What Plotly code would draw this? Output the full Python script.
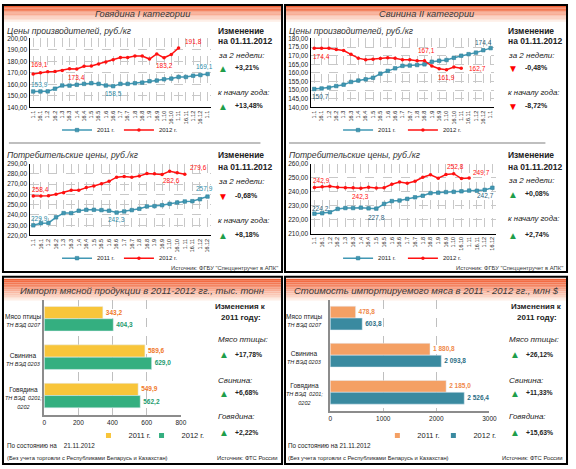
import plotly.graph_objects as go

# ---------------- data ----------------
dates_25 = ["1.1", "16.1", "1.2", "16.2", "1.3", "16.3", "1.4", "16.4", "1.5", "16.5", "1.6", "16.6",
            "1.7", "16.7", "1.8", "16.8", "1.9", "16.9", "1.10", "16.10", "1.11", "16.11", "1.12", "16.12", "1.1"]
dates_24 = dates_25[:24]

beef_prod_2011 = [153.9, 153.9, 154.0, 156.3, 159.1, 159.0, 159.7, 160.5, 161.1, 160.5, 159.1, 158.5, 160.5,
                  160.5, 161.1, 161.6, 162.8, 163.4, 164.5, 165.1, 166.5, 166.5, 167.6, 168.2, 169.1]
beef_prod_2012 = [169.1, 170.2, 171.0, 171.3, 172.2, 173.6, 173.4, 175.9, 176.1, 177.8, 179.5, 181.5, 183.5,
                  183.5, 184.7, 184.7, 182.1, 186.6, 183.2, 186.1, 191.8]
beef_cons_2011 = [229.9, 231.9, 232.2, 237.7, 241.8, 241.8, 244.1, 245.0, 245.0, 244.7, 244.1, 242.3, 243.4,
                  244.7, 246.0, 248.3, 248.6, 249.5, 250.8, 252.1, 253.1, 253.4, 255.3, 257.9]
beef_cons_2012 = [258.4, 258.5, 258.8, 260.1, 261.7, 264.0, 264.0, 266.6, 268.2, 270.4, 272.7, 276.8, 277.5,
                  276.8, 277.8, 280.4, 280.0, 279.4, 282.6, 281.0, 279.6]
pork_prod_2011 = [150.7, 151.0, 151.5, 152.4, 153.2, 154.8, 155.6, 156.3, 157.2, 159.6, 161.2, 162.7, 164.1,
                  164.3, 164.6, 165.0, 166.5, 167.1, 167.5, 168.8, 170.0, 170.9, 171.8, 173.2, 174.4]
pork_prod_2012 = [174.4, 174.4, 174.3, 173.6, 173.0, 170.8, 168.6, 167.7, 168.0, 168.4, 168.8, 168.5, 167.6,
                  167.6, 167.1, 167.1, 164.0, 162.4, 161.9, 163.4, 162.7]
pork_cons_2011 = [224.2, 224.5, 225.2, 227.6, 228.2, 228.2, 228.5, 228.0, 227.8, 231.2, 233.2, 233.6, 234.8,
                  235.9, 237.0, 238.9, 239.2, 239.6, 239.8, 240.2, 240.7, 240.6, 241.2, 242.7]
pork_cons_2012 = [242.9, 243.5, 243.8, 243.0, 242.8, 242.8, 242.3, 243.1, 242.6, 242.8, 245.2, 246.8, 245.9,
                  247.4, 250.2, 252.0, 249.6, 252.2, 252.8, 249.3, 249.7]

import_cats = ["Мясо птицы", "Свинина", "Говядина"]
import_codes = ["ТН ВЭД 0207", "ТН ВЭД 0203", "ТН ВЭД  0201;<br>0202"]
import_vol_2011 = [343.2, 589.6, 549.9]
import_vol_2012 = [404.3, 629.0, 562.2]
import_val_2011 = [478.8, 1880.8, 2185.0]
import_val_2012 = [603.8, 2093.8, 2526.4]

series_names = ["2011 г.", "2012 г."]
FONT = "Liberation Sans, Arial, sans-serif"

# ---------------- helpers ----------------
W, H = 576, 469
def X(px): return px / W
def Y(py): return 1 - py / H

TEAL = "#4198B4"
RED = "#FF1010"
fig = go.Figure()
annotations = []
shapes = []
legend_counter = [0]

def new_legend(xpx, ypx, size):
    legend_counter[0] += 1
    name = "legend" if legend_counter[0] == 1 else f"legend{legend_counter[0]}"
    fig.layout[name] = dict(orientation="h", x=X(xpx), y=Y(ypx), xanchor="left", yanchor="middle",
                            font=dict(size=size, color="#222"), bgcolor="rgba(0,0,0,0)", itemwidth=30)
    return name

def ax_names(k):
    return ("x" if k == 1 else f"x{k}", "y" if k == 1 else f"y{k}",
            "xaxis" if k == 1 else f"xaxis{k}", "yaxis" if k == 1 else f"yaxis{k}")

def line_chart(k, labels, s11, s12, yr, dt, xpx, ypx, legx, legy):
    xa, ya, xn, yn = ax_names(k)
    l1 = new_legend(legx[0], legy, 6)
    l2 = new_legend(legx[1], legy, 6)
    fig.add_trace(go.Scatter(x=list(range(len(s11))), y=s11, mode="lines+markers", name=series_names[0],
                             line=dict(color=TEAL, width=1.5),
                             marker=dict(symbol="square", size=3.5, color=TEAL, line=dict(color="#2E7F99", width=0.6)),
                             xaxis=xa, yaxis=ya, legend=l1, cliponaxis=False))
    fig.add_trace(go.Scatter(x=list(range(len(s12))), y=s12, mode="lines+markers", name=series_names[1],
                             line=dict(color=RED, width=1.5),
                             marker=dict(symbol="circle", size=3.5, color=RED),
                             xaxis=xa, yaxis=ya, legend=l2, cliponaxis=False))
    fig.layout[xn] = dict(domain=[X(xpx[0]), X(xpx[1])], anchor=ya, range=[-0.5, len(labels) - 0.5],
                          tickmode="array", tickvals=list(range(len(labels))), ticktext=labels,
                          tickangle=-90, tickfont=dict(size=5.5, color="#222"),
                          showgrid=True, gridcolor="#C8C8C8", griddash="dash", gridwidth=0.7,
                          showline=True, linecolor="black", linewidth=1.3, ticks="", zeroline=False)
    fig.layout[yn] = dict(domain=[Y(ypx[1]), Y(ypx[0])], anchor=xa, range=yr, dtick=dt, tickformat=".2f",
                          tickfont=dict(size=6.5, color="#222"), showgrid=True, gridcolor="#C8C8C8",
                          griddash="dash", gridwidth=0.7, showline=True, linecolor="black", linewidth=1.3,
                          ticks="", zeroline=False)

def point_label(k, series, idx, color, dx, dy):
    xa, ya, _, _ = ax_names(k)
    v = series[idx]
    annotations.append(dict(xref=xa, yref=ya, x=idx, y=v, text=f"{v:.1f}".replace(".", ","), showarrow=False,
                            xshift=dx, yshift=dy, font=dict(size=6.5, color=color)))

def txt(x, y, text, size=9, color="#222", anchor="left"):
    annotations.append(dict(xref="paper", yref="paper", x=X(x), y=Y(y), text=text, showarrow=False,
                            xanchor=anchor, yanchor="middle", align=anchor if anchor != "center" else "center",
                            font=dict(size=size, color=color, family=FONT)))

def tri(x, y, up):
    txt(x, y, "▲" if up else "▼", size=10, color="#1E9E4A" if up else "#FF0000", anchor="center")

def header(x0, x1, y0, y1, title, size):
    n = 12
    top = (241, 96, 52)
    bot = (254, 238, 230)
    for i in range(n):
        t = i / (n - 1)
        c = tuple(int(top[j] + (bot[j] - top[j]) * t) for j in range(3))
        shapes.append(dict(type="rect", xref="paper", yref="paper", x0=X(x0), x1=X(x1),
                           y0=Y(y0 + (y1 - y0) * (i + 1) / n), y1=Y(y0 + (y1 - y0) * i / n),
                           fillcolor=f"rgb{c}", line=dict(width=0), layer="below"))
    txt((x0 + x1) / 2, (y0 + y1) / 2 + 0.5, f"<i>{title}</i>", size=size, color="#3A3A3A", anchor="center")

# ---------------- panels ----------------
for (x0, y0, x1, y1) in [(1, 1, 285, 272), (288, 1, 575, 272), (1, 277, 285, 467), (288, 277, 575, 467)]:
    shapes.append(dict(type="rect", xref="paper", yref="paper", x0=X(x0), x1=X(x1), y0=Y(y1), y1=Y(y0),
                       line=dict(color="black", width=2)))
header(2, 284, 2, 18, "Говядина I категории", 9.3)
header(289, 574, 2, 18, "Свинина II категории", 9.3)
header(2, 284, 279, 301, "Импорт мясной продукции в 2011-2012 гг., тыс. тонн", 9.5)
header(289, 574, 279, 301, "Стоимость импортируемого мяса в 2011 - 2012 гг., млн $", 9.5)

for (a, b) in [(7, 263), (292, 553)]:
    shapes.append(dict(type="line", xref="paper", yref="paper", x0=X(a), x1=X(b), y0=Y(141), y1=Y(141),
                       line=dict(color="#BFBFBF", width=2)))

# ---------------- line charts ----------------
line_chart(1, dates_25, beef_prod_2011, beef_prod_2012, [140, 200], 10, (28, 213), (35, 105), (56, 119), 128)
line_chart(2, dates_24, beef_cons_2011, beef_cons_2012, [220, 290], 10, (28, 213), (162, 235), (56, 119), 258)
line_chart(3, dates_25, pork_prod_2011, pork_prod_2012, [140, 180], 5, (314, 501), (35, 105), (342, 408), 128)
line_chart(4, dates_24, pork_cons_2011, pork_cons_2012, [210, 260], 10, (314, 503), (162, 233), (342, 408), 258)

TL1 = "#2E8BA8"
TL2 = "#2C5F7C"
point_label(1, beef_prod_2012, 0, RED, 6, 9)
point_label(1, beef_prod_2012, 6, RED, 0, -8)
point_label(1, beef_prod_2012, 18, RED, 0, -8)
point_label(1, beef_prod_2012, 20, RED, 15, 6)
point_label(1, beef_prod_2011, 0, TL1, 6, 7)
point_label(1, beef_prod_2011, 11, TL1, 0, -7)
point_label(1, beef_prod_2011, 24, TL1, -3, 7)

point_label(2, beef_cons_2012, 0, RED, 7, 7)
point_label(2, beef_cons_2012, 18, RED, 2, -9)
point_label(2, beef_cons_2012, 20, RED, 14, 7)
point_label(2, beef_cons_2011, 0, TL1, 6, 7)
point_label(2, beef_cons_2011, 11, TL1, 0, -7)
point_label(2, beef_cons_2011, 23, TL1, -3, 8)

point_label(3, pork_prod_2012, 0, RED, 7, -8)
point_label(3, pork_prod_2012, 15, RED, 2, 10)
point_label(3, pork_prod_2012, 18, RED, 0, -8)
point_label(3, pork_prod_2012, 20, RED, 16, 0)
point_label(3, pork_prod_2011, 0, TL2, 6, -8)
point_label(3, pork_prod_2011, 24, TL2, -7, 6)

point_label(4, pork_cons_2012, 0, RED, 7, 7)
point_label(4, pork_cons_2012, 6, RED, 0, -8)
point_label(4, pork_cons_2012, 18, RED, 2, 7)
point_label(4, pork_cons_2012, 20, RED, 12, 5)
point_label(4, pork_cons_2011, 0, TL2, 6, 5)
point_label(4, pork_cons_2011, 8, TL2, 0, -9)
point_label(4, pork_cons_2011, 23, TL2, -7, -8)

# right-side change texts (top panels)
def change_block(x, ys, up1, v1, up2, v2):
    txt(x, ys[0], "<b>Изменение</b>", 8.5)
    txt(x, ys[1], "<b>на 01.11.2012</b>", 8.5)
    txt(x, ys[2], "<i>за 2 недели:</i>", 8)
    tri(x + 7, ys[3], up1)
    txt(x + 17, ys[3], f"<b>{v1}</b>", 7)
    txt(x, ys[4], "<i>к началу года:</i>", 7.8)
    tri(x + 7, ys[5], up2)
    txt(x + 17, ys[5], f"<b>{v2}</b>", 7)

change_block(218, [27, 38, 52, 65, 90, 104], True, "+3,21%", True, "+13,48%")
change_block(218, [153, 165, 180, 195, 220, 235], False, "-0,68%", True, "+8,18%")
change_block(513, [27, 38, 52, 65, 90, 104], False, "-0,48%", False, "-8,72%")
change_block(513, [153, 165, 179, 193, 218, 235], True, "+0,08%", True, "+2,74%")

txt(3, 27, "<i>Цены производителей, руб./кг</i>", 8.6, "#333")
txt(3, 153, "<i>Потребительские цены, руб./кг</i>", 8.6, "#333")
txt(290, 27, "<i>Цены производителей, руб./кг</i>", 8.6, "#333")
txt(290, 153, "<i>Потребительские цены, руб./кг</i>", 8.6, "#333")
txt(283, 268, "Источник: ФГБУ \"Спеццентручет в АПК\"", 5.8, "#333", "right")
txt(573, 268, "Источник: ФГБУ \"Спеццентручет в АПК\"", 5.8, "#333", "right")

# ---------------- bar charts ----------------
def bar_chart(k, v11, v12, c11, c12, t11, t12, xr, dt, xpx, ypx, legx, legy, labx):
    xa, ya, xn, yn = ax_names(k)
    for vals, col, tcol, name, lx in [(v11, c11, t11, series_names[0], legx[0]),
                                      (v12, c12, t12, series_names[1], legx[1])]:
        fig.add_trace(go.Bar(y=import_cats, x=vals, orientation="h", name=name, marker=dict(color=col),
                             texttemplate="<b>%{x:,.1f}</b>", textposition="outside",
                             textfont=dict(size=6.5, color=tcol), constraintext="none", cliponaxis=False,
                             xaxis=xa, yaxis=ya, showlegend=False))
        # small square legend key for the series
        fig.add_trace(go.Scatter(x=[None], y=[None], mode="markers", name=name,
                                 marker=dict(symbol="square", size=5, color=col),
                                 xaxis=xa, yaxis=ya, legend=new_legend(lx, legy, 7.5)))
    fig.layout[xn] = dict(domain=[X(xpx[0]), X(xpx[1])], anchor=ya, range=xr, dtick=dt,
                          tickfont=dict(size=6.5, color="#222"), showgrid=True, gridcolor="#BFBFBF",
                          griddash="dash", gridwidth=1, showline=True, linecolor="#8C8C8C", linewidth=2,
                          zeroline=False, ticks="")
    fig.layout[yn] = dict(domain=[Y(ypx[1]), Y(ypx[0])], anchor=xa, autorange="reversed",
                          showticklabels=False, showline=True, linecolor="#8C8C8C", linewidth=2, ticks="")
    for cat, code in zip(import_cats, import_codes):
        annotations.append(dict(xref="paper", yref=ya, x=X(labx), y=cat,
                                text=f"{cat}<br><i><span style='font-size:5.5px'>{code}</span></i>",
                                showarrow=False, xanchor="center", align="center", yshift=-2,
                                font=dict(size=6.5, color="#222", family=FONT)))

bar_chart(5, import_vol_2011, import_vol_2012, "#F8C53A", "#34AF80", "#F07828", "#1C9A6E",
          [0, 800], 200, (43, 182), (300, 417), (88, 142), 438, 22)
bar_chart(6, import_val_2011, import_val_2012, "#F4A064", "#3A8AA0", "#F08A4B", "#2C6E85",
          [0, 3000], 1000, (334, 496), (300, 413), (382, 439), 438, 308)

def change_block2(x, cx, v):
    txt(cx, 307, "<b>Изменения к</b>", 8, anchor="center")
    txt(cx, 318, "<b>2011 году:</b>", 8, anchor="center")
    for name, (y1, y2), val in zip(["Мясо птицы:", "Свинина:", "Говядина:"], [(341, 356), (382, 395), (419, 435)], v):
        txt(x, y1, f"<i>{name}</i>", 8)
        tri(x + 8, y2, True)
        txt(x + 17, y2, f"<b>{val}</b>", 6.8)

change_block2(218, 243, ["+17,78%", "+6,68%", "+2,22%"])
change_block2(514, 544, ["+26,12%", "+11,33%", "+15,63%"])

txt(3, 448, "По состоянию на    21.11.2012", 6.3)
txt(3, 461, "(Без учета торговли с Республиками Беларусь и Казахстан)", 5.8)
txt(283, 461, "Источник: ФТС России", 5.8, anchor="right")
txt(289, 448, "По состоянию на 21.11.2012", 6.3)
txt(289, 461, "(Без учета торговли с Республиками Беларусь и Казахстан)", 5.8)
txt(573, 461, "Источник: ФТС России", 5.8, anchor="right")

fig.update_layout(width=W, height=H, margin=dict(l=0, r=0, t=0, b=0), paper_bgcolor="white",
                  plot_bgcolor="white", font=dict(family=FONT, size=8, color="#222"), separators=", ",
                  barmode="group", bargap=0.36, bargroupgap=0, annotations=annotations, shapes=shapes,
                  showlegend=True)
fig.write_html("out.html", config={"displayModeBar": False},
               post_script="document.body.style.margin='0px';document.body.style.overflow='hidden';")
